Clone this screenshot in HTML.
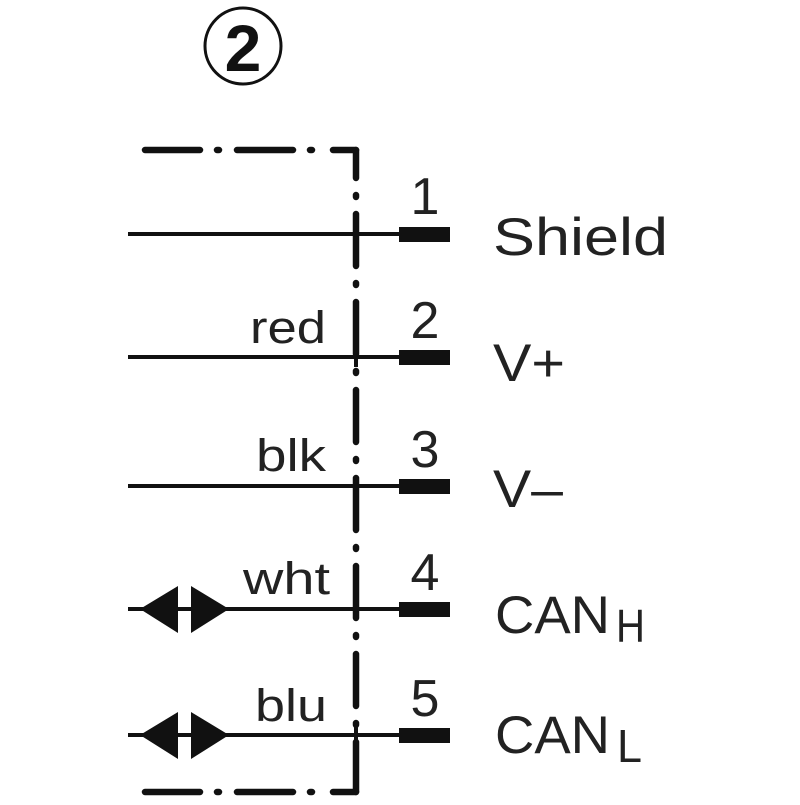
<!DOCTYPE html>
<html><head><style>html,body{margin:0;padding:0;background:#fff;}</style></head>
<body>
<svg width="800" height="800" viewBox="0 0 800 800" xmlns="http://www.w3.org/2000/svg" font-family="Liberation Sans, sans-serif" fill="#222">
<rect width="800" height="800" fill="#fff"/>
<circle cx="243" cy="46" r="38" fill="none" stroke="#111" stroke-width="3"/>
<text x="243" y="71" font-size="66" font-weight="bold" text-anchor="middle" fill="#111">2</text>
<g stroke="#111" stroke-width="6.5" stroke-linecap="round" fill="none">
<path d="M356 150 V792" stroke-dasharray="28 17 2 17 52 17 2 17 52 17 2 17 52 17 2 17 52 17 2 17 52 17 2 17 52 17 2 17 52 17 2 17"/>
<path d="M145 150 H200 M217 150 H219 M237 150 H293 M310 150 H312 M333 150 H356"/>
<path d="M145 792 H200 M217 792 H219 M237 792 H293 M310 792 H312 M333 792 H356"/>
</g>
<g stroke="#111" stroke-width="4">
<line x1="128" y1="234" x2="402" y2="234"/>
<line x1="128" y1="357" x2="402" y2="357"/>
<line x1="128" y1="486" x2="402" y2="486"/>
<line x1="128" y1="609" x2="402" y2="609"/>
<line x1="128" y1="735" x2="402" y2="735"/>
<line x1="356" y1="225" x2="356" y2="244"/>
<line x1="356" y1="348" x2="356" y2="367"/>
<line x1="356" y1="477" x2="356" y2="496"/>
<line x1="356" y1="600" x2="356" y2="619"/>
<line x1="356" y1="726" x2="356" y2="745"/>
</g>
<g fill="#111">
<rect x="399" y="227" width="51" height="15"/>
<rect x="399" y="350" width="51" height="15"/>
<rect x="399" y="479" width="51" height="15"/>
<rect x="399" y="602" width="51" height="15"/>
<rect x="399" y="728" width="51" height="15"/>
<polygon points="140,609 178,586 178,633"/>
<polygon points="229,609 191,586 191,633"/>
<polygon points="140,735 178,712 178,759"/>
<polygon points="229,735 191,712 191,759"/>
</g>
<g font-size="52" text-anchor="middle" fill="#222">
<text x="425" y="214">1</text>
<text x="425" y="338">2</text>
<text x="425" y="467">3</text>
<text x="425" y="590">4</text>
<text x="425" y="716">5</text>
</g>
<g font-size="45" fill="#222">
<text x="250" y="343" textLength="76" lengthAdjust="spacingAndGlyphs">red</text>
<text x="256" y="471" textLength="70" lengthAdjust="spacingAndGlyphs">blk</text>
<text x="243" y="594" textLength="87" lengthAdjust="spacingAndGlyphs">wht</text>
<text x="255" y="721" textLength="72" lengthAdjust="spacingAndGlyphs">blu</text>
</g>
<g font-size="53" fill="#222">
<text x="493" y="255" textLength="175" lengthAdjust="spacingAndGlyphs">Shield</text>
<text x="493" y="381" textLength="72" lengthAdjust="spacingAndGlyphs">V+</text>
<text x="493" y="507" textLength="70" lengthAdjust="spacingAndGlyphs">V–</text>
<text x="495" y="633" textLength="115" lengthAdjust="spacingAndGlyphs">CAN</text>
<text x="616" y="642" font-size="46" textLength="29" lengthAdjust="spacingAndGlyphs">H</text>
<text x="495" y="753" textLength="115" lengthAdjust="spacingAndGlyphs">CAN</text>
<text x="617" y="762" font-size="46" textLength="25" lengthAdjust="spacingAndGlyphs">L</text>
</g>
</svg>
</body></html>
